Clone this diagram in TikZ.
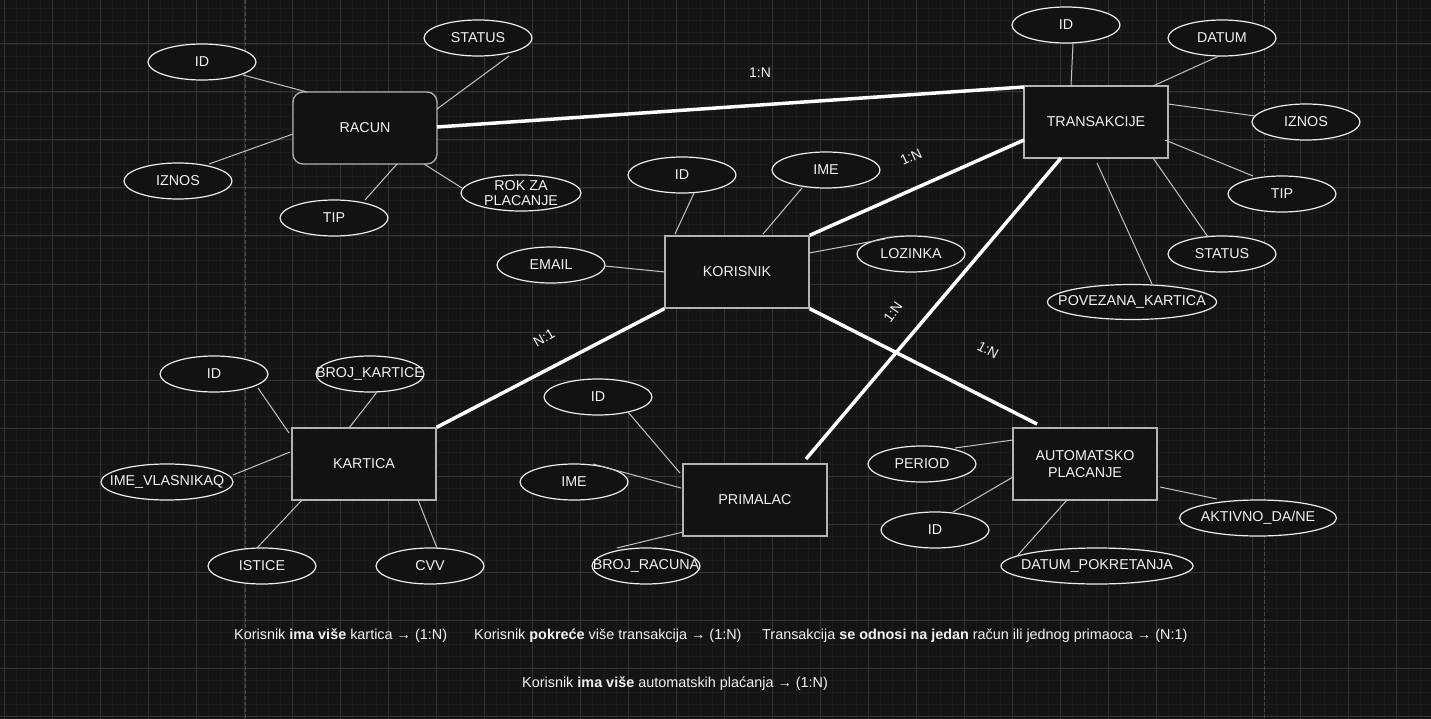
\documentclass[tikz,border=0pt]{standalone}
\usepackage{fontspec}
\setmainfont{Liberation Sans}
\usetikzlibrary{shapes.geometric,calc}
\definecolor{bgc}{HTML}{141414}
\definecolor{minorc}{HTML}{1C1C1C}
\definecolor{majorc}{HTML}{343434}
\definecolor{dashc}{HTML}{4A4A4A}
\definecolor{nodef}{HTML}{121212}
\definecolor{entc}{HTML}{B3B3B3}
\definecolor{ellc}{HTML}{EDEDED}
\definecolor{alc}{HTML}{C4C4C4}
\definecolor{txt}{HTML}{F2F2F2}
\newcommand\zw[1]{\makebox[0pt]{#1}}
\begin{document}
\begin{tikzpicture}[x=1pt,y=-1pt,
 ent/.style={draw=entc, fill=nodef, line width=1.3pt, minimum width=144pt, minimum height=72pt,
   text=txt, font=\fontsize{14.3}{16.5}\selectfont, align=center, inner sep=0pt},
 attr/.style={ellipse, draw=ellc, fill=nodef, line width=1.2pt, minimum width=108pt, minimum height=36pt,
   inner sep=0pt, text=txt, font=\fontsize{14.3}{16.5}\selectfont},
 aline/.style={draw=alc, line width=1pt},
 rel/.style={draw=white, line width=3.5pt},
 card/.style={text=txt, font=\fontsize{14}{16}\selectfont, inner sep=0pt},
 note/.style={text=txt, font=\fontsize{14.4}{16}\selectfont, anchor=west, inner sep=0pt}]
% background and grid
\fill[bgc] (0,0) rectangle (1431,719);
\useasboundingbox (0,0) rectangle (1431,719);
\foreach \x in {4,16,...,1431} \draw[minorc, line width=0.8pt] (\x,0) -- (\x,719);
\foreach \y in {8,20,...,719} \draw[minorc, line width=0.8pt] (0,\y) -- (1431,\y);
\foreach \x in {4,52,...,1431} \draw[majorc, line width=1pt] (\x,0) -- (\x,719);
\foreach \y in {44,92,...,719} \draw[majorc, line width=1pt] (0,\y) -- (1431,\y);
\draw[dashc, line width=1pt, dash pattern=on 4pt off 2pt] (245,0) -- (245,719);
\draw[dashc, line width=1pt, dash pattern=on 4pt off 2pt] (1264,0) -- (1264,719);

% entities
\node[ent, rounded corners=10pt] (racun) at (365,128) {RACUN};
\node[ent] (trans) at (1096,122) {TRANSAKCIJE};
\node[ent] (kor) at (737,272) {KORISNIK};
\node[ent] (kart) at (364,464) {KARTICA};
\node[ent] (prim) at (755,500) {PRIMALAC};
\node[ent] (auto) at (1085,464) {AUTOMATSKO\\PLACANJE};

% relationships
\draw[rel] ($(racun)+(72,-1)$) -- ($(trans)+(-72,-35)$);
\draw[rel] (kor.north east) -- ($(trans)+(-72,18)$);
\draw[rel] (kor.south west) -- (kart.north east);
\draw[rel] (kor.south east) -- ($(auto)+(-48,-40)$);
\draw[rel] ($(trans)+(-35,36)$) -- ($(prim)+(51,-41)$);

% cardinality labels
\node[card] (c1) at (760,73) {1:N};
\node[card, rotate=25] (c2) at (911,157) {1:N};
\node[card, rotate=30] (c3) at (544,338) {N:1};
\node[card, rotate=-28] (c4) at (988,350) {1:N};
\node[card, rotate=55] (c5) at (893,312) {1:N};

% attributes of RACUN
\node[attr] (idR) at (202,62) {\zw{ID}};
\node[attr] (iznosR) at (178,181) {\zw{IZNOS}};
\node[attr] (tipR) at (334,218) {\zw{TIP}};
\node[attr] (statusR) at (478,38) {\zw{STATUS}};
\node[attr, minimum width=120pt, label={[card, align=center, font=\fontsize{14.3}{15.5}\selectfont]center:ROK ZA\\PLACANJE}] (rokR) at (521,193) {};
\draw[aline] ($(idR)+(41,13)$) -- ($(racun)+(-58,-36)$);
\draw[aline] ($(iznosR)+(31,-17)$) -- ($(racun)+(-72,6)$);
\draw[aline] ($(tipR)+(31,-18)$) -- ($(racun)+(32,36)$);
\draw[aline] ($(statusR)+(31,18)$) -- ($(racun)+(72,-19)$);
\draw[aline] ($(rokR)+(-59,-5)$) -- ($(racun)+(59,36)$);

% attributes of TRANSAKCIJE
\node[attr] (idT) at (1066,25) {\zw{ID}};
\node[attr] (datumT) at (1222,38) {\zw{DATUM}};
\node[attr] (iznosT) at (1306,122) {\zw{IZNOS}};
\node[attr] (tipT) at (1282,194) {\zw{TIP}};
\node[attr] (statusT) at (1222,254) {\zw{STATUS}};
\node[attr, minimum width=169pt, minimum height=35pt] (povT) at (1132,302) {\zw{POVEZANA\_KARTICA}};
\draw[aline] ($(idT)+(7,18)$) -- ($(trans)+(-25,-36)$);
\draw[aline] ($(datumT)+(-3,18)$) -- ($(trans)+(57,-36)$);
\draw[aline] ($(iznosT)+(-51,-6)$) -- ($(trans)+(72,-18)$);
\draw[aline] ($(tipT)+(-29,-18)$) -- ($(trans)+(69,18)$);
\draw[aline] ($(statusT)+(-14,-17)$) -- ($(trans)+(57,36)$);
\draw[aline] ($(povT)+(20,-18)$) -- ($(trans)+(1,41)$);

% attributes of KORISNIK
\node[attr] (idK) at (682,175) {\zw{ID}};
\node[attr] (imeK) at (826,170) {\zw{IME}};
\node[attr] (emailK) at (551,265) {\zw{EMAIL}};
\node[attr] (lozK) at (911,254) {\zw{LOZINKA}};
\draw[aline] ($(idK)+(12,18)$) -- ($(kor)+(-62,-38)$);
\draw[aline] ($(imeK)+(-24,18)$) -- ($(kor)+(26,-38)$);
\draw[aline] ($(emailK)+(54,1)$) -- ($(kor)+(-72,0)$);
\draw[aline] ($(kor)+(72,-19)$) -- ($(lozK)+(-26,-15)$);

% attributes of KARTICA
\node[attr] (idKa) at (214,374) {\zw{ID}};
\node[attr] (brojKa) at (370,374) {\zw{BROJ\_KARTICE}};
\node[attr, minimum width=132pt] (imeKa) at (167,482) {\zw{IME\_VLASNIKAQ}};
\node[attr] (isticeKa) at (262,566) {\zw{ISTICE}};
\node[attr] (cvvKa) at (430,566) {\zw{CVV}};
\draw[aline] ($(idKa)+(44,14)$) -- ($(kart)+(-75,-31)$);
\draw[aline] ($(brojKa)+(7,18)$) -- ($(kart)+(-15,-36)$);
\draw[aline] ($(imeKa)+(66,-7)$) -- ($(kart)+(-74,-12)$);
\draw[aline] ($(isticeKa)+(-5,-18)$) -- ($(kart)+(-62,36)$);
\draw[aline] ($(kart)+(54,36)$) -- ($(cvvKa)+(7,-18)$);

% attributes of PRIMALAC
\node[attr] (idP) at (598,397) {\zw{ID}};
\node[attr] (imeP) at (574,482) {\zw{IME}};
\node[attr] (brojP) at (646,566) {\zw{BROJ\_RACUNA}};
\draw[aline] ($(idP)+(30,15)$) -- ($(prim)+(-75,-27)$);
\draw[aline] ($(imeP)+(19,-18)$) -- ($(prim)+(-74,-12)$);
\draw[aline] ($(brojP)+(-29,-18)$) -- ($(prim)+(-72,32)$);

% attributes of AUTOMATSKO PLACANJE
\node[attr] (periodA) at (922,464) {\zw{PERIOD}};
\node[attr] (idA) at (935,530) {\zw{ID}};
\node[attr, minimum width=192pt] (datumA) at (1097,566) {\zw{DATUM\_POKRETANJA}};
\node[attr, minimum width=157pt] (aktA) at (1258,518) {\zw{AKTIVNO\_DA/NE}};
\draw[aline] ($(periodA)+(33,-16)$) -- ($(auto)+(-72,-24)$);
\draw[aline] ($(idA)+(18,-18)$) -- ($(auto)+(-72,13)$);
\draw[aline] ($(auto)+(-18,36)$) -- ($(datumA)+(-79,-11)$);
\draw[aline] ($(auto)+(75,23)$) -- ($(aktA)+(-41,-19)$);

% notes
\node[note] (n1) at (234,636) {Korisnik \textbf{ima više} kartica → (1:N)};
\node[note] (n2) at (474,636) {Korisnik \textbf{pokreće} više transakcija → (1:N)};
\node[note] (n3) at (762,636) {Transakcija \textbf{se odnosi na jedan} račun ili jednog primaoca → (N:1)};
\node[note] (n4) at (522,684) {Korisnik \textbf{ima više} automatskih plaćanja → (1:N)};
\end{tikzpicture}
\end{document}
